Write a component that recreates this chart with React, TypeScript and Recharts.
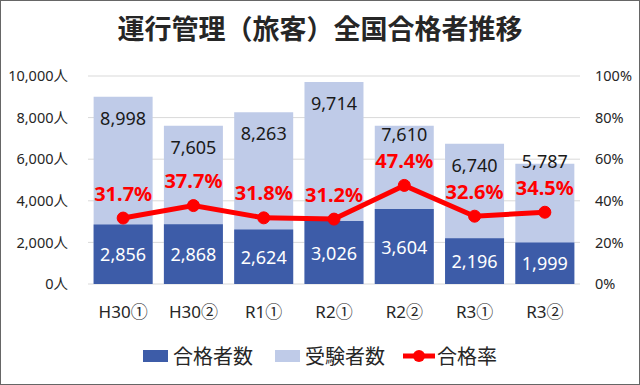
import { ComposedChart, Bar, Line, XAxis, YAxis, CartesianGrid, LabelList } from "recharts";

const rounds = ["H30①", "H30②", "R1①", "R2①", "R2②", "R3①", "R3②"];
const passers = [2856, 2868, 2624, 3026, 3604, 2196, 1999];
const examinees = [8998, 7605, 8263, 9714, 7610, 6740, 5787];
const passRate = [31.7, 37.7, 31.8, 31.2, 47.4, 32.6, 34.5];
const countTicks = [0, 2000, 4000, 6000, 8000, 10000];
const rateTicks = [0, 20, 40, 60, 80, 100];

const data = rounds.map((round, i) => ({
  round,
  passers: passers[i],
  examinees: examinees[i],
  rate: passRate[i],
}));

const DARK = "#3D5CA8";
const LIGHT = "#BFCBE8";
const RED = "#FF0000";
const FONT = '"Noto Sans", "Noto Sans CJK JP", sans-serif';

const fmt = (v: number) => v.toLocaleString("en-US");

// light bar label: inside top, pushed up when it would hit the rate label
function ExamineeLabel(props: any) {
  const { x, y, width, height, value, index } = props;
  const base = y + height;
  const perUnit = height / value;
  const rateY = base - passRate[index] * 100 * perUnit;
  const cy = Math.min(y + 21, rateY - 51);
  return (
    <text x={x + width / 2} y={cy} textAnchor="middle" dominantBaseline="central" fill="#1a1a1a" fontSize={18} fontFamily={FONT}>
      {fmt(value)}
    </text>
  );
}

function PasserLabel(props: any) {
  const { x, y, width, height, value } = props;
  return (
    <text x={x + width / 2} y={y + height / 2} textAnchor="middle" dominantBaseline="central" fill="#fff" fontSize={18} fontFamily={FONT}>
      {fmt(value)}
    </text>
  );
}

function RateLabel(props: any) {
  const { x, y, value } = props;
  return (
    <text x={x} y={y - 25} textAnchor="middle" dominantBaseline="central" fill={RED} fontSize={20} fontWeight="bold" fontFamily={FONT}>
      {value.toFixed(1)}%
    </text>
  );
}

export default function App() {
  return (
    <div style={{ position: "relative", width: 640, height: 385, background: "#fff", fontFamily: FONT }}>
      <style>{`body{margin:0}`}</style>
      <div
        style={{
          position: "absolute",
          top: 12,
          left: 0,
          width: 640,
          textAlign: "center",
          fontSize: 27,
          fontWeight: "bold",
          color: "#262626",
          lineHeight: "32px",
          fontFamily: '"Noto Sans CJK JP", sans-serif',
        }}
      >
        運行管理（旅客）全国合格者推移
      </div>
      <ComposedChart width={640} height={385} data={data} margin={{ top: 76, right: 0, bottom: 71, left: 8 }} barCategoryGap="8%">
        <CartesianGrid vertical={false} stroke="#D9D9D9" yAxisId="left" xAxisId="front" />
        <XAxis xAxisId="front" dataKey="round" axisLine={false} tickLine={false} tickSize={0} tickMargin={22} tick={{ fontSize: 17, fill: "#262626", fontFamily: FONT }} />
        <XAxis xAxisId="back" dataKey="round" hide height={0} />
        <YAxis
          yAxisId="left"
          domain={[0, 10000]}
          ticks={countTicks}
          width={80}
          axisLine={false}
          tickLine={false}
          tickSize={0}
          tickMargin={20}
          tickFormatter={(v: number) => `${fmt(v)}人`}
          tick={{ fontSize: 14.5, fill: "#262626", fontFamily: FONT }}
        />
        <YAxis
          yAxisId="right"
          orientation="right"
          domain={[0, 100]}
          ticks={rateTicks}
          width={60}
          axisLine={false}
          tickLine={false}
          tickSize={0}
          tickMargin={15}
          tickFormatter={(v: number) => `${v}%`}
          tick={{ fontSize: 14.5, fill: "#262626", fontFamily: FONT }}
        />
        <Bar xAxisId="back" yAxisId="left" dataKey="examinees" fill={LIGHT} isAnimationActive={false}>
          <LabelList dataKey="examinees" content={ExamineeLabel} />
        </Bar>
        <Bar xAxisId="front" yAxisId="left" dataKey="passers" fill={DARK} isAnimationActive={false}>
          <LabelList dataKey="passers" content={PasserLabel} />
        </Bar>
        <Line
          xAxisId="front"
          yAxisId="right"
          dataKey="rate"
          stroke={RED}
          strokeWidth={5}
          dot={{ r: 6, fill: RED, stroke: RED, strokeWidth: 1 }}
          isAnimationActive={false}
        >
          <LabelList dataKey="rate" content={RateLabel} />
        </Line>
      </ComposedChart>
      {/* legend */}
      <div
        style={{
          position: "absolute",
          top: 343,
          left: 0,
          width: 640,
          display: "flex",
          justifyContent: "center",
          alignItems: "center",
          fontSize: 20,
          color: "#262626",
          fontFamily: '"Noto Sans CJK JP", sans-serif',
          lineHeight: "26px",
        }}
      >
        <span style={{ display: "inline-block", width: 25, height: 12, background: DARK, marginRight: 5 }} />
        <span style={{ marginRight: 22 }}>合格者数</span>
        <span style={{ display: "inline-block", width: 25, height: 12, background: LIGHT, marginRight: 5 }} />
        <span style={{ marginRight: 18 }}>受験者数</span>
        <svg width={32} height={14} style={{ marginRight: 2 }}>
          <line x1={0} y1={7} x2={32} y2={7} stroke={RED} strokeWidth={5} />
          <circle cx={16} cy={7} r={6} fill={RED} />
        </svg>
        <span>合格率</span>
      </div>
      <div style={{ position: "absolute", inset: 0, border: "1px solid #666", pointerEvents: "none" }} />
    </div>
  );
}
